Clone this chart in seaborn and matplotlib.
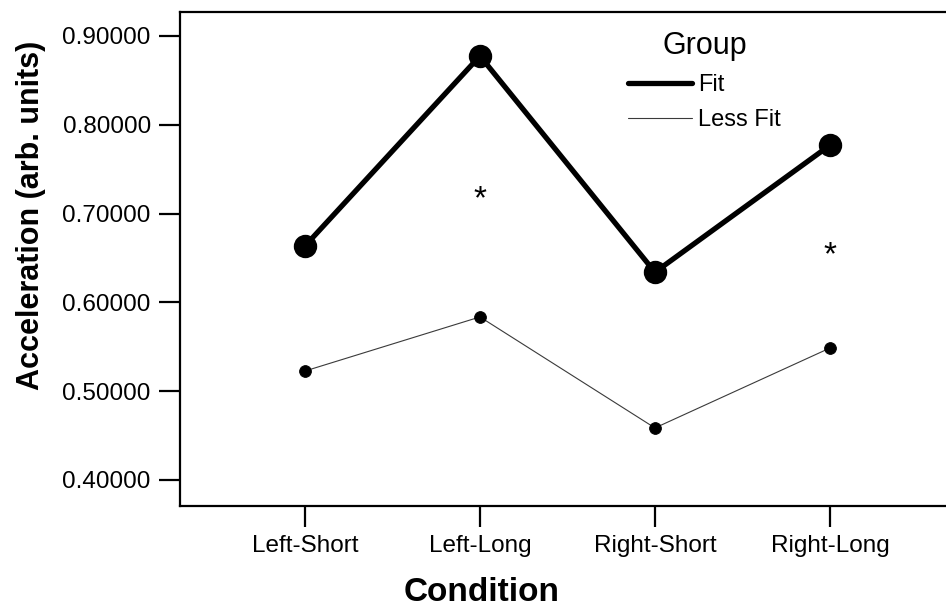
import matplotlib
matplotlib.use("Agg")
import matplotlib.pyplot as plt
import seaborn as sns
import pandas as pd
from matplotlib.lines import Line2D

conditions = ["Left-Short", "Left-Long", "Right-Short", "Right-Long"]
fit_values = [0.6635, 0.8775, 0.6340, 0.7770]
lessfit_values = [0.5227, 0.5836, 0.4586, 0.5486]
groups = ["Fit", "Less Fit"]
sig_conditions = ["Left-Long", "Right-Long"]
sig_y = [0.716, 0.653]
yticks = [0.4, 0.5, 0.6, 0.7, 0.8, 0.9]

df = pd.DataFrame({
    "Condition": conditions * 2,
    "Acceleration": fit_values + lessfit_values,
    "Group": [groups[0]] * 4 + [groups[1]] * 4,
})

sns.set_theme(style="ticks")
plt.rcParams["font.family"] = ["Liberation Sans", "DejaVu Sans"]
plt.rcParams["text.color"] = "black"
plt.rcParams["axes.labelcolor"] = "black"

fig = plt.figure(figsize=(9.46, 6.11), dpi=100)
ax = fig.add_axes([180 / 946, 105 / 611, 1 - 180 / 946, (506 - 12) / 611])

sns.pointplot(data=df[df.Group == "Fit"], x="Condition", y="Acceleration",
              order=conditions, color="black", errorbar=None,
              markersize=14, linewidth=3.8, ax=ax)
sns.pointplot(data=df[df.Group == "Less Fit"], x="Condition", y="Acceleration",
              order=conditions, color="black", errorbar=None,
              markersize=8.5, linewidth=0.8, ax=ax)
ax.lines[-1].set_color("#3a3a3a")
ax.lines[-1].set_markerfacecolor("black")
ax.lines[-1].set_markeredgecolor("black")

for c, y in zip(sig_conditions, sig_y):
    ax.text(conditions.index(c), y, "*", ha="center", va="center", fontsize=24, color="black")

ax.set_xlim(-0.714, 3.663)
ax.set_ylim(0.3707, 0.927)
ax.set_yticks(yticks)
ax.set_yticklabels([f"{v:.5f}" for v in yticks])

for s in ["left", "top", "bottom"]:
    ax.spines[s].set_color("black")
    ax.spines[s].set_linewidth(1.6)
ax.spines["right"].set_visible(False)
ax.tick_params(axis="both", length=15, width=1.6, color="black", labelsize=17.5,
               pad=6, labelcolor="black")

ax.set_xlabel("Condition", fontsize=24, fontweight="bold", color="black")
ax.set_ylabel("Acceleration (arb. units)", fontsize=22, fontweight="bold", color="black")
ax.xaxis.set_label_coords((482 - 180) / 766, (506 - 577) / 494)
ax.yaxis.set_label_coords((46 - 180) / 766, (506 - 215) / 494)

handles = [Line2D([0], [0], color="black", lw=3.8),
           Line2D([0], [0], color="#3a3a3a", lw=0.8)]
leg = ax.legend(handles, groups, title="Group", loc="upper left",
                bbox_to_anchor=(0.567, 0.99), frameon=False, fontsize=17,
                title_fontsize=22, handlelength=2.7, handletextpad=0.25,
                labelspacing=0.55, borderaxespad=0.2)
leg._legend_box.align = "center"
for t in leg.get_texts():
    t.set_color("black")
leg.get_title().set_color("black")

fig.savefig("out.png", dpi=100)
